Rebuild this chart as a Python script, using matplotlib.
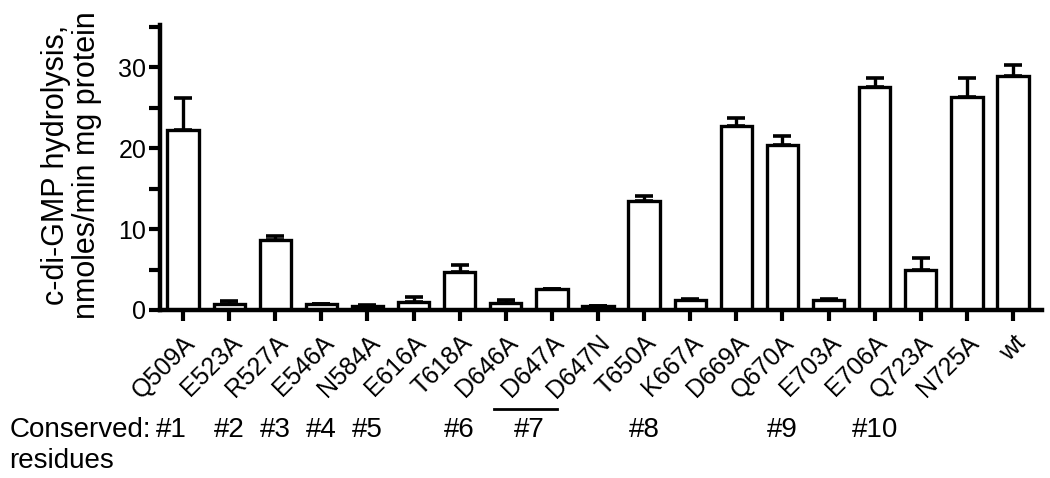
import numpy as np
import matplotlib
matplotlib.use('Agg')
from matplotlib import pyplot as plt
from matplotlib.ticker import MultipleLocator
import matplotlib.transforms as mtransforms

plt.rcParams['font.family'] = ['Liberation Sans', 'DejaVu Sans']

mutants = ['Q509A', 'E523A', 'R527A', 'E546A', 'N584A', 'E616A', 'T618A',
           'D646A', 'D647A', 'D647N', 'T650A', 'K667A', 'D669A', 'Q670A',
           'E703A', 'E706A', 'Q723A', 'N725A', 'wt']
activity = [22.2, 0.8, 8.6, 0.7, 0.5, 1.0, 4.7, 0.9, 2.6, 0.5, 13.5, 1.2,
            22.7, 20.4, 1.2, 27.5, 5.0, 26.3, 28.9]
sem = [4.0, 0.3, 0.5, 0.0, 0.1, 0.6, 0.8, 0.3, 0.0, 0.0, 0.6, 0.1,
       1.0, 1.1, 0.1, 1.2, 1.4, 2.4, 1.3]

# conserved residue numbers, placed under the mutant index they belong to
conserved_labels = ['#1', '#2', '#3', '#4', '#5', '#6', '#7', '#8', '#9', '#10']
conserved_at = [-0.25, 1, 2, 3, 4, 6, 7.5, 10, 13, 15]
group7 = (6.75, 8.1)   # #7 covers D646A and D647A

fig = plt.figure(figsize=(10.5, 4.78), dpi=100)
ax = fig.add_axes([0.1524, 0.3515, 0.84, 0.5962])

x = np.arange(len(mutants))
err = [np.zeros(len(sem)), sem]
ax.bar(x, activity, width=0.68, color='white', edgecolor='black', linewidth=2.4, zorder=2)
ax.errorbar(x, activity, yerr=err, fmt='none', ecolor='black', elinewidth=2.4,
            capsize=6.5, capthick=2.6, zorder=1)

ax.set_xlim(-0.5, 18.63)
ax.set_ylim(0, 35.2)
ax.yaxis.set_major_locator(MultipleLocator(10))
ax.yaxis.set_minor_locator(MultipleLocator(5))
ax.set_xticks(x)
ax.set_xticklabels(mutants, rotation=45, ha='right', rotation_mode='anchor', fontsize=18)
ax.tick_params(axis='x', length=8, width=3, pad=7)
ax.tick_params(axis='y', which='both', length=8, width=3, labelsize=18, pad=2)

for s in ['top', 'right']:
    ax.spines[s].set_visible(False)
for s in ['left', 'bottom']:
    ax.spines[s].set_linewidth(3.2)

fig.text(0.068, 0.655, 'c-di-GMP hydrolysis,\nnmoles/min mg protein', rotation=90,
         ha='center', va='center', fontsize=22, multialignment='center', linespacing=1.05)

trans = mtransforms.blended_transform_factory(ax.transData, fig.transFigure)
fig.text(0.009, 0.085, 'Conserved:', fontsize=20, va='baseline')
fig.text(0.009, 0.02, 'residues', fontsize=20, va='baseline')
for lab, pos in zip(conserved_labels, conserved_at):
    fig.text(pos, 0.085, lab, transform=trans, ha='center', va='baseline', fontsize=20)
fig.add_artist(plt.Line2D(group7, [0.1444, 0.1444], transform=trans, color='black', lw=2))

fig.savefig('out.png', dpi=100)
